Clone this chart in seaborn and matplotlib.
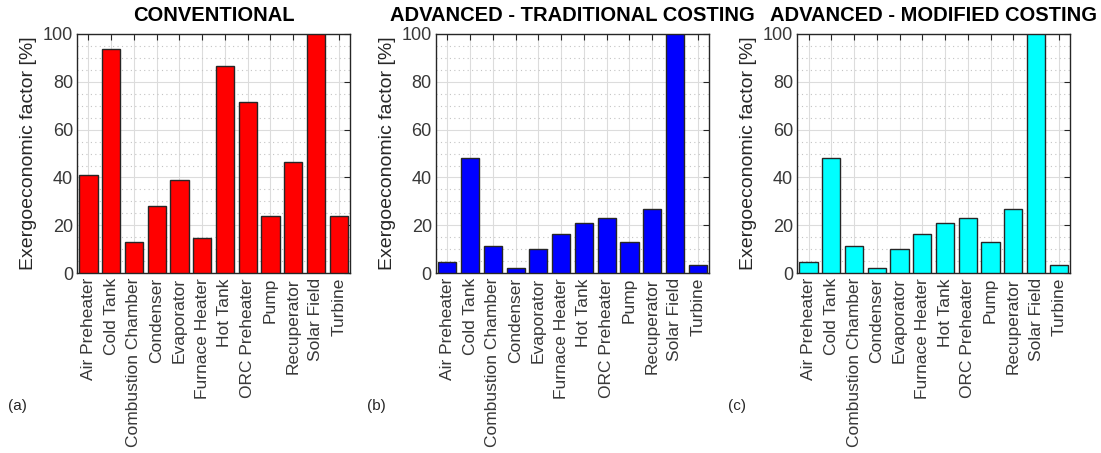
import numpy as np
import pandas as pd
import matplotlib
matplotlib.use('Agg')
import matplotlib.pyplot as plt
import seaborn as sns
from matplotlib.ticker import MultipleLocator

components = ['Air Preheater', 'Cold Tank', 'Combustion Chamber', 'Condenser',
              'Evaporator', 'Furnace Heater', 'Hot Tank', 'ORC Preheater',
              'Pump', 'Recuperator', 'Solar Field', 'Turbine']

# exergoeconomic factor [%]
conventional = [40.9, 93.7, 13.2, 28.0, 38.9, 14.9, 86.8, 71.4, 23.7, 46.4, 100.0, 24.0]
adv_traditional = [4.7, 48.0, 11.2, 2.3, 10.2, 16.3, 20.8, 22.9, 13.2, 26.7, 100.0, 3.5]
adv_modified = [4.7, 48.0, 11.2, 2.3, 10.2, 16.3, 20.8, 22.9, 13.2, 26.7, 100.0, 3.5]

titles = ['CONVENTIONAL', 'ADVANCED - TRADITIONAL COSTING', 'ADVANCED - MODIFIED COSTING']
colors = ['#ff0000', '#0000ff', '#00ffff']
panel_tags = ['(a)', '(b)', '(c)']

sns.set_style('white')
plt.rcParams['font.family'] = ['Liberation Sans', 'DejaVu Sans']

fig = plt.figure(figsize=(11.01, 4.53), dpi=100)
lefts = [0.070, 0.396, 0.724]
width = 0.248
bottom, height = 0.397, 0.528

series = [conventional, adv_traditional, adv_modified]
for i in range(3):
    ax = fig.add_axes([lefts[i], bottom, width, height])
    df = pd.DataFrame({'Component': components, 'Value': series[i]})
    sns.barplot(data=df, x='Component', y='Value', color=colors[i],
                edgecolor='#262626', linewidth=1.0, width=0.8,
                saturation=1, ax=ax, zorder=3)
    ax.set_ylim(0, 100)
    ax.set_xlim(-0.5, len(components) - 0.5)
    ax.yaxis.set_major_locator(MultipleLocator(20))
    ax.yaxis.set_minor_locator(MultipleLocator(5))
    ax.grid(which='major', axis='both', color='#dcdcdc', linestyle='-', linewidth=0.8, zorder=0)
    ax.grid(which='minor', axis='y', color='#c4c4c4', linestyle=(0, (1, 3)), linewidth=0.8, zorder=0)
    ax.set_axisbelow(True)
    ax.tick_params(axis='both', which='major', direction='in', top=True, right=True,
                   length=4, width=0.8, colors='#262626', labelcolor='#383838')
    ax.tick_params(axis='y', which='minor', left=False, right=False)
    ax.tick_params(axis='y', labelsize=13, pad=3)
    ax.tick_params(axis='x', labelsize=12.5, labelrotation=90)
    for s in ax.spines.values():
        s.set_color('#262626')
        s.set_linewidth(1.0)
        s.set_visible(True)
    ax.set_xlabel('')
    ax.set_ylabel('Exergoeconomic factor [%]', fontsize=14, color='#262626', labelpad=4)
    ax.set_title(titles[i], fontsize=14.5, fontweight='bold', pad=9, color='black')
    fig.text(lefts[i] - 0.063, 0.095, panel_tags[i], fontsize=11, color='#262626')

fig.savefig('out.png', dpi=100)
